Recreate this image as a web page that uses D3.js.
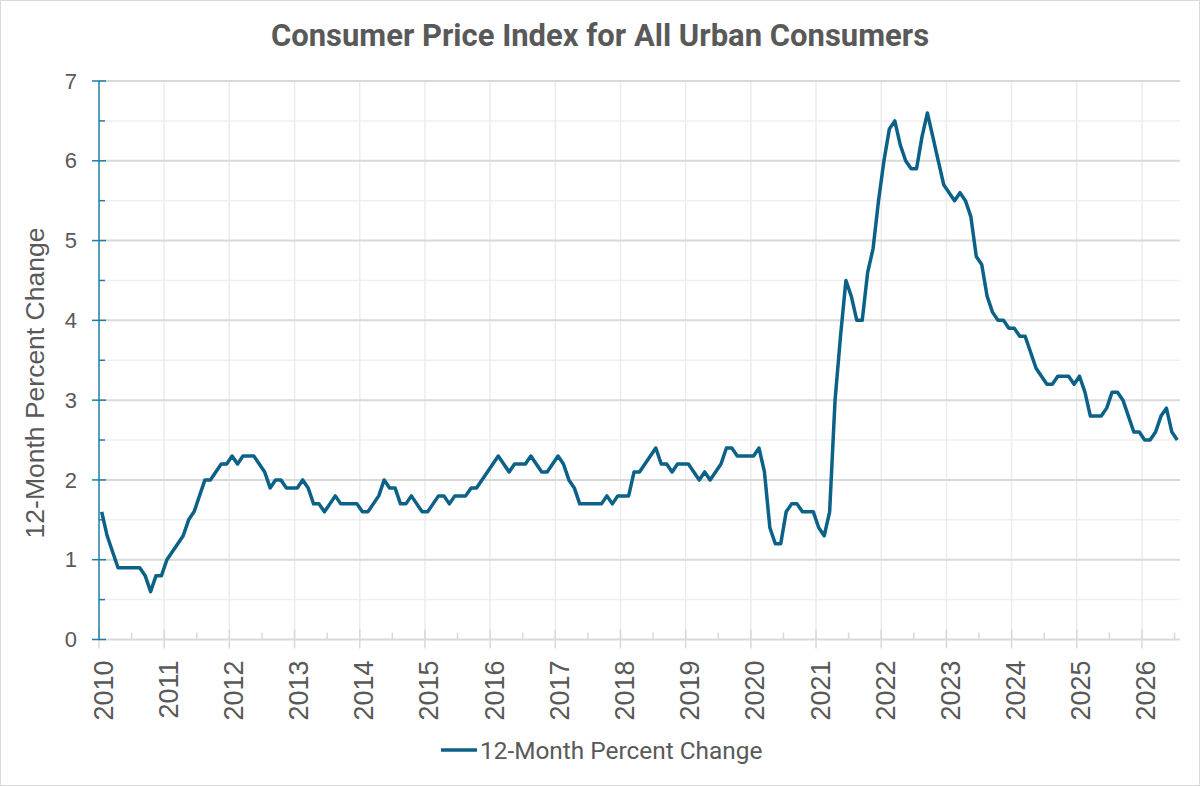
<!DOCTYPE html>
<html>
<head>
<meta charset="utf-8">
<script src="https://cdn.jsdelivr.net/npm/d3@7"></script>
<style>
  body { margin: 0; background: #fff; }
</style>
</head>
<body>
<div id="chart"></div>
<script>
// monthly 12-month % change, Jan 2010 .. Jul 2026
var startYear = 2010;
var values = [
    1.6, 1.3, 1.1, 0.9, 0.9, 0.9, 0.9, 0.9, 0.8, 0.6, 0.8, 0.8, // 2010
    1.0, 1.1, 1.2, 1.3, 1.5, 1.6, 1.8, 2.0, 2.0, 2.1, 2.2, 2.2, // 2011
    2.3, 2.2, 2.3, 2.3, 2.3, 2.2, 2.1, 1.9, 2.0, 2.0, 1.9, 1.9, // 2012
    1.9, 2.0, 1.9, 1.7, 1.7, 1.6, 1.7, 1.8, 1.7, 1.7, 1.7, 1.7, // 2013
    1.6, 1.6, 1.7, 1.8, 2.0, 1.9, 1.9, 1.7, 1.7, 1.8, 1.7, 1.6, // 2014
    1.6, 1.7, 1.8, 1.8, 1.7, 1.8, 1.8, 1.8, 1.9, 1.9, 2.0, 2.1, // 2015
    2.2, 2.3, 2.2, 2.1, 2.2, 2.2, 2.2, 2.3, 2.2, 2.1, 2.1, 2.2, // 2016
    2.3, 2.2, 2.0, 1.9, 1.7, 1.7, 1.7, 1.7, 1.7, 1.8, 1.7, 1.8, // 2017
    1.8, 1.8, 2.1, 2.1, 2.2, 2.3, 2.4, 2.2, 2.2, 2.1, 2.2, 2.2, // 2018
    2.2, 2.1, 2.0, 2.1, 2.0, 2.1, 2.2, 2.4, 2.4, 2.3, 2.3, 2.3, // 2019
    2.3, 2.4, 2.1, 1.4, 1.2, 1.2, 1.6, 1.7, 1.7, 1.6, 1.6, 1.6, // 2020
    1.4, 1.3, 1.6, 3.0, 3.8, 4.5, 4.3, 4.0, 4.0, 4.6, 4.9, 5.5, // 2021
    6.0, 6.4, 6.5, 6.2, 6.0, 5.9, 5.9, 6.3, 6.6, 6.3, 6.0, 5.7, // 2022
    5.6, 5.5, 5.6, 5.5, 5.3, 4.8, 4.7, 4.3, 4.1, 4.0, 4.0, 3.9, // 2023
    3.9, 3.8, 3.8, 3.6, 3.4, 3.3, 3.2, 3.2, 3.3, 3.3, 3.3, 3.2, // 2024
    3.3, 3.1, 2.8, 2.8, 2.8, 2.9, 3.1, 3.1, 3.0, 2.8, 2.6, 2.6, // 2025
    2.5, 2.5, 2.6, 2.8, 2.9, 2.6, 2.5                           // 2026
];
var yearTicks = d3.range(2010, 2027);
var yTicks = [0, 1, 2, 3, 4, 5, 6, 7];
var title = "Consumer Price Index for All Urban Consumers";
var seriesName = "12-Month Percent Change";

var W = 1200, H = 786;
var margin = { top: 81, right: 20, bottom: 147, left: 99 };
var textColor = "#595959",
    lineColor = "#0b6187",
    axisColor = "#1d7fa3";

var svg = d3.select("#chart")
    .append("svg")
    .attr("width", W)
    .attr("height", H);

svg.append("rect")
    .attr("x", 0.5).attr("y", 0.5)
    .attr("width", W - 1).attr("height", H - 1)
    .attr("fill", "#fff")
    .attr("stroke", "#d9d9d9");

// x in fractional years, points sit in the middle of each month
var x = d3.scaleLinear()
    .domain([startYear, startYear + values.length / 12])
    .range([margin.left, W - margin.right]);
var y = d3.scaleLinear()
    .domain([0, 7])
    .range([H - margin.bottom + 0.5, margin.top]);

var data = values.map(function(v, i) {
    return { t: startYear + (i + 0.5) / 12, v: v };
});

// gridlines
var halfSteps = d3.range(0.5, 7, 1);
svg.append("g").selectAll("line").data(halfSteps).enter()
    .append("line")
    .attr("x1", x.range()[0]).attr("x2", x.range()[1])
    .attr("y1", function(d) { return y(d); })
    .attr("y2", function(d) { return y(d); })
    .attr("stroke", "#efefef").attr("stroke-width", 1.5);

svg.append("g").selectAll("line").data(yearTicks.slice(1)).enter()
    .append("line")
    .attr("x1", function(d) { return x(d); })
    .attr("x2", function(d) { return x(d); })
    .attr("y1", y(7)).attr("y2", y(0))
    .attr("stroke", "#ececec").attr("stroke-width", 1.5);

svg.append("g").selectAll("line").data(yTicks.slice(1)).enter()
    .append("line")
    .attr("x1", x.range()[0]).attr("x2", x.range()[1])
    .attr("y1", function(d) { return y(d); })
    .attr("y2", function(d) { return y(d); })
    .attr("stroke", "#d9d9d9").attr("stroke-width", 2);

// x axis (gray)
var xAxis = svg.append("g");
xAxis.append("line")
    .attr("x1", x.range()[0]).attr("x2", x.range()[1])
    .attr("y1", y(0)).attr("y2", y(0))
    .attr("stroke", "#d9d9d9").attr("stroke-width", 2);
xAxis.selectAll(".major").data(yearTicks).enter()
    .append("line")
    .attr("x1", function(d) { return x(d); })
    .attr("x2", function(d) { return x(d); })
    .attr("y1", y(0) - 10).attr("y2", y(0) + 9)
    .attr("stroke", "#d9d9d9").attr("stroke-width", 1.5);
xAxis.selectAll(".minor").data(yearTicks.map(function(d) { return d + 0.5; })).enter()
    .append("line")
    .attr("x1", function(d) { return x(d); })
    .attr("x2", function(d) { return x(d); })
    .attr("y1", y(0) - 7).attr("y2", y(0))
    .attr("stroke", "#d9d9d9").attr("stroke-width", 1.5);
xAxis.selectAll("text").data(yearTicks).enter()
    .append("text")
    .attr("transform", function(d) {
        return "translate(" + (x(d) + 13.5) + "," + (y(0) + 21) + ") rotate(-90)";
    })
    .attr("text-anchor", "end")
    .attr("font-family", "Liberation Sans, Arial, sans-serif")
    .attr("font-size", 27)
    .attr("fill", textColor)
    .text(function(d) { return d; });

// y axis (teal)
var yAxis = svg.append("g");
yAxis.append("line")
    .attr("x1", x(startYear)).attr("x2", x(startYear))
    .attr("y1", y(7)).attr("y2", y(0))
    .attr("stroke", axisColor).attr("stroke-width", 1.5);
yAxis.selectAll(".major").data(yTicks).enter()
    .append("line")
    .attr("x1", x(startYear) - 7).attr("x2", x(startYear) + 7)
    .attr("y1", function(d) { return y(d); })
    .attr("y2", function(d) { return y(d); })
    .attr("stroke", axisColor).attr("stroke-width", 1.5);
yAxis.selectAll(".minor").data(halfSteps).enter()
    .append("line")
    .attr("x1", x(startYear)).attr("x2", x(startYear) + 6)
    .attr("y1", function(d) { return y(d); })
    .attr("y2", function(d) { return y(d); })
    .attr("stroke", axisColor).attr("stroke-width", 1.5);
yAxis.selectAll("text").data(yTicks).enter()
    .append("text")
    .attr("x", 77)
    .attr("y", function(d) { return y(d); })
    .attr("dy", "0.35em")
    .attr("text-anchor", "end")
    .attr("font-family", "Liberation Sans, Arial, sans-serif")
    .attr("font-size", 22)
    .attr("fill", textColor)
    .text(function(d) { return d; });

// the series
var line = d3.line()
    .x(function(d) { return x(d.t); })
    .y(function(d) { return y(d.v); });

svg.append("path")
    .datum(data)
    .attr("d", line)
    .attr("fill", "none")
    .attr("stroke", lineColor)
    .attr("stroke-width", 3.5)
    .attr("stroke-linejoin", "round");

// title + axis title
svg.append("text")
    .attr("x", 600).attr("y", 46)
    .attr("text-anchor", "middle")
    .attr("font-family", "Roboto, sans-serif")
    .attr("font-weight", "bold")
    .attr("font-size", 31)
    .attr("fill", textColor)
    .text(title);

svg.append("text")
    .attr("transform", "translate(44,383) rotate(-90)")
    .attr("text-anchor", "middle")
    .attr("font-family", "Liberation Sans, Arial, sans-serif")
    .attr("font-size", 26.5)
    .attr("fill", textColor)
    .text(seriesName);

// legend
var legend = svg.append("g").attr("transform", "translate(441,750)");
legend.append("line")
    .attr("x1", 0).attr("x2", 36)
    .attr("stroke", lineColor).attr("stroke-width", 3.5);
legend.append("text")
    .attr("x", 39).attr("dy", "0.35em")
    .attr("font-family", "Roboto, sans-serif")
    .attr("font-size", 24.4)
    .attr("fill", textColor)
    .text(seriesName);
</script>
</body>
</html>
